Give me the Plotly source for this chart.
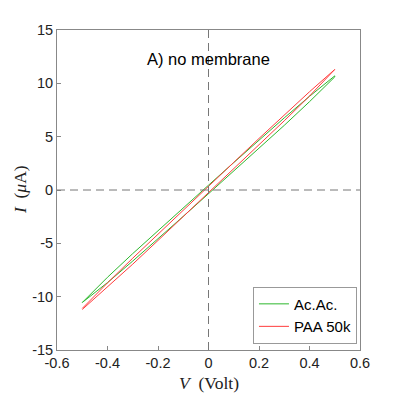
import plotly.graph_objects as go

# voltage sweep points (Volt)
volt = [-0.5, -0.4, -0.3, -0.2, -0.1, 0.0, 0.1, 0.2, 0.3, 0.4, 0.5]

# current in microampere, upper / lower branch of each loop
acac_up = [-10.55, -8.18, -5.96, -3.79, -1.67, 0.45, 2.57, 4.69, 6.76, 8.78, 10.7]
acac_down = [-10.55, -8.68, -6.66, -4.59, -2.47, -0.35, 1.77, 3.89, 6.06, 8.28, 10.6]
paa_up = [-11.1, -8.71, -6.39, -4.13, -1.89, 0.35, 2.59, 4.83, 7.05, 9.21, 11.3]
paa_down = [-11.2, -9.11, -6.95, -4.73, -2.49, -0.25, 1.99, 4.23, 6.49, 8.81, 11.2]

x_ticks = [-0.6, -0.4, -0.2, 0, 0.2, 0.4, 0.6]
x_labels = ["-0.6", "-0.4", "-0.2", "0", "0.2", "0.4", "0.6"]
y_ticks = [-15, -10, -5, 0, 5, 10, 15]
y_labels = ["-15", "-10", "-5", "0", "5", "10", "15"]

series = [("Ac.Ac.", acac_up, acac_down, "#2db82d"),
          ("PAA 50k", paa_up, paa_down, "#ff3b3b")]

fig = go.Figure()
for name, up, down, col in series:
    # go up along the lower branch, come back along the upper one
    xs = volt + volt[::-1]
    ys = down + up[::-1]
    fig.add_trace(go.Scatter(x=xs, y=ys, mode="lines", name=name,
                             line=dict(color=col, width=1)))

fig.add_hline(y=0, line=dict(color="#777", width=1, dash="8px,5px"))
fig.add_vline(x=0, line=dict(color="#777", width=1, dash="8px,5px"))

fig.add_annotation(x=0, y=12.3, text="A) no membrane", showarrow=False,
                   font=dict(size=16.5, color="black", family="Liberation Sans"))

# axis titles placed by hand (serif, like the LaTeX labels)
title_font = dict(size=17.5, family="Liberation Serif", color="#222")
fig.add_annotation(xref="paper", yref="paper", x=0.5, y=-0.103, yanchor="middle",
                   text="<i>V</i>  (Volt)", showarrow=False, font=title_font)
fig.add_annotation(xref="paper", yref="paper", x=-0.122, y=0.5, xanchor="center",
                   text="<i>I</i>  (<i>μ</i>A)", textangle=-90, showarrow=False,
                   font=title_font)

axis = dict(showgrid=False, zeroline=False, mirror=True, showline=True,
            linecolor="#888", linewidth=1, ticks="inside", ticklen=4,
            tickcolor="#888", automargin=False,
            tickfont=dict(size=14.5, color="#222", family="Liberation Sans"))

fig.update_layout(
    width=399, height=399,
    margin=dict(l=49, r=47, t=22, b=57),
    paper_bgcolor="white", plot_bgcolor="white",
    xaxis=dict(range=[-0.6, 0.6], tickvals=x_ticks, ticktext=x_labels, **axis),
    yaxis=dict(range=[-15, 15], tickvals=y_ticks, ticktext=y_labels, **axis),
    legend=dict(x=0.99, y=0.02, xanchor="right", yanchor="bottom",
                bordercolor="#999", borderwidth=1, bgcolor="white",
                font=dict(size=15, family="Liberation Sans", color="black"),
                tracegroupgap=0, itemwidth=30),
    showlegend=True,
)

fig.write_html("out.html")
